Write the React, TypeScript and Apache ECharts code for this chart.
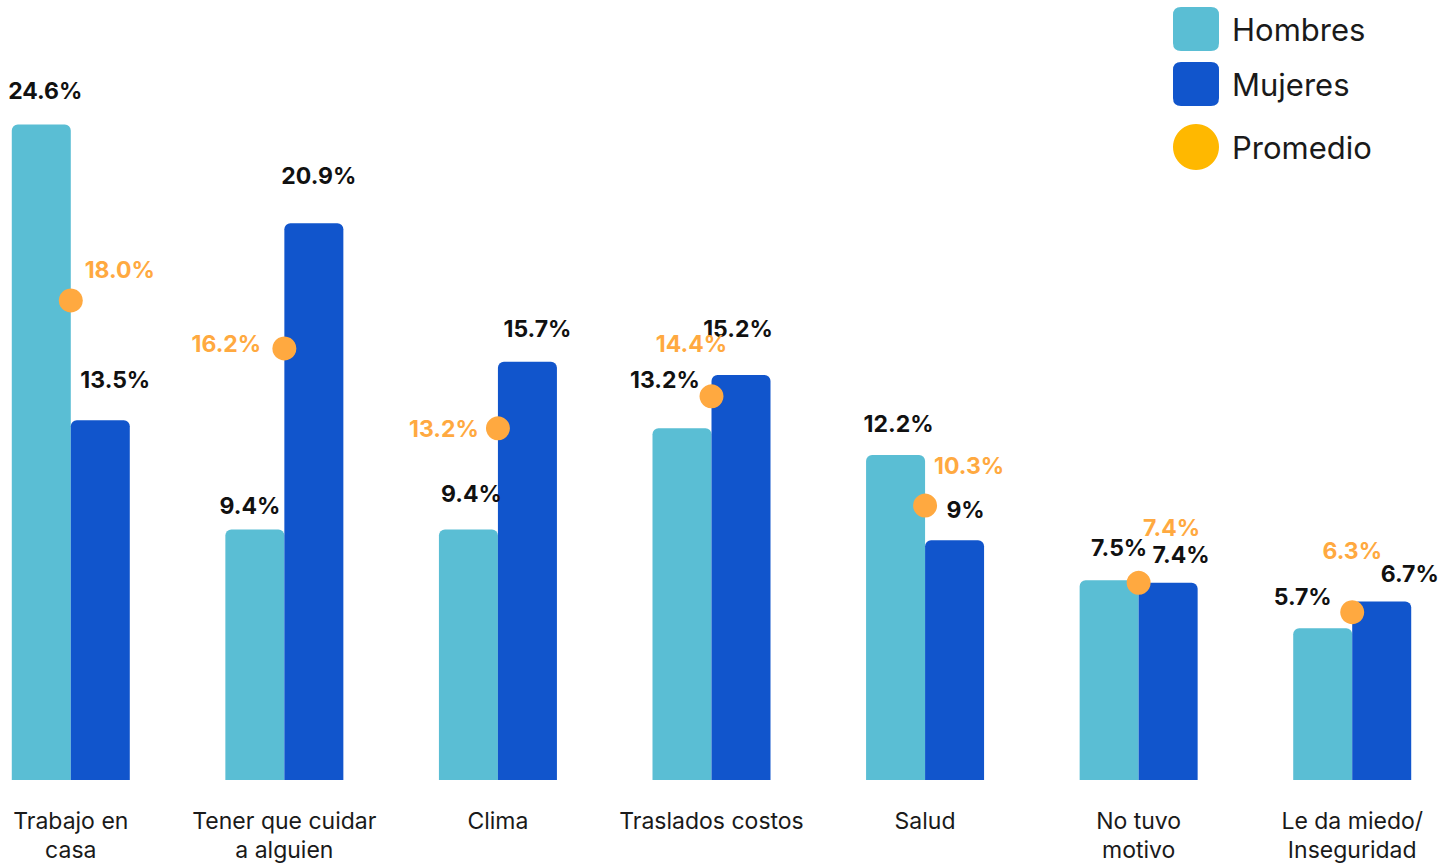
import React, { useEffect, useRef } from "react";
import * as echarts from "echarts";

const categories = [
  "Trabajo en\ncasa",
  "Tener que cuidar\na alguien",
  "Clima",
  "Traslados costos",
  "Salud",
  "No tuvo\nmotivo",
  "Le da miedo/\nInseguridad",
];
const hombres = [24.6, 9.4, 9.4, 13.2, 12.2, 7.5, 5.7];
const mujeres = [13.5, 20.9, 15.7, 15.2, 9, 7.4, 6.7];
const promedio = [18.0, 16.2, 13.2, 14.4, 10.3, 7.4, 6.3];

// label placement tweaks (pixels)
const hombresLabelOffsets = [[4, -22], [-5, -12], [3, -24], [-17, -37], [3, -19], [10, -21], [-20, -20]];
const mujeresLabelOffsets = [[15, -29], [5, -36], [10, -21], [-3, -35], [11, -19], [13, -16], [28, -16]];
const promedioLabelOffsets = [[49, -30], [-58, -4], [-54, 1], [-20, -52], [44, -40], [33, -55], [0, -61]];

const C_H = "#5abed4";
const C_M = "#1155cc";
const C_P = "#ffa940";
const FONT = "Inter";
const SHIFT = 36; // chart canvas starts left of the window

const roundIcon =
  "path://M8,0 H38 Q46,0 46,8 V36 Q46,44 38,44 H8 Q0,44 0,36 V8 Q0,0 8,0 Z";

export default function App() {
  const ref = useRef<HTMLDivElement>(null);
  useEffect(() => {
    if (!ref.current) return;
    const chart = echarts.init(ref.current, null, { renderer: "svg" });
    const barLabel = {
      show: true,
      position: "top" as const,
      distance: 0,
      color: "#111",
      fontFamily: FONT,
      fontWeight: 700,
      fontSize: 23,
      formatter: (p: any) => `${p.value}%`,
    };
    chart.setOption({
      animation: false,
      backgroundColor: "#ffffff",
      textStyle: { fontFamily: FONT },
      legend: [
        {
          data: ["Hombres", "Mujeres"],
          orient: "vertical",
          left: 1168 + SHIFT,
          top: 2,
          itemWidth: 46,
          itemHeight: 44,
          itemGap: 11,
          icon: roundIcon,
          textStyle: { fontSize: 31, color: "#1a1a1a", fontFamily: FONT, padding: [0, 0, 0, 8] },
        },
        {
          data: [{ name: "Promedio", itemStyle: { color: "#ffb800" } }],
          orient: "vertical",
          left: 1168 + SHIFT,
          top: 119,
          itemWidth: 46,
          itemHeight: 46,
          icon: "circle",
          textStyle: { fontSize: 31, color: "#1a1a1a", fontFamily: FONT, padding: [0, 0, 0, 8] },
        },
      ],
      grid: { left: 0, width: 1495, top: 34, height: 750 },
      xAxis: {
        type: "category",
        data: categories,
        axisLine: { show: false },
        axisTick: { show: false },
        axisLabel: {
          interval: 0,
          margin: 26,
          fontSize: 23,
          lineHeight: 29,
          color: "#1a1a1a",
          fontFamily: FONT,
        },
      },
      yAxis: { type: "value", min: 0, max: 28, show: false },
      series: [
        {
          name: "Hombres",
          type: "bar",
          barWidth: 59,
          barGap: "0%",
          itemStyle: { color: C_H, borderRadius: [6, 6, 0, 0] },
          data: hombres.map((v, i) => ({
            value: v,
            label: { offset: hombresLabelOffsets[i] },
          })),
          label: barLabel,
        },
        {
          name: "Mujeres",
          type: "bar",
          barWidth: 59,
          barGap: "0%",
          itemStyle: { color: C_M, borderRadius: [6, 6, 0, 0] },
          data: mujeres.map((v, i) => ({
            value: v,
            label: { offset: mujeresLabelOffsets[i] },
          })),
          label: barLabel,
        },
        {
          name: "Promedio",
          type: "scatter",
          symbol: "circle",
          symbolSize: 24,
          z: 5,
          itemStyle: { color: C_P, opacity: 1 },
          data: promedio.map((v, i) => ({
            value: v,
            label: { offset: promedioLabelOffsets[i] },
          })),
          label: {
            show: true,
            position: "inside",
            color: C_P,
            fontFamily: FONT,
            fontWeight: 700,
            fontSize: 23,
            formatter: (p: any) => `${Number(p.value).toFixed(1)}%`,
          },
        },
      ],
    });
    return () => chart.dispose();
  }, []);
  return (
    <div style={{ position: "fixed", left: 0, top: 0, width: 1441, height: 864, overflow: "hidden", background: "#fff" }}>
      <div
        ref={ref}
        style={{ position: "absolute", left: -SHIFT, top: 0, width: 1495, height: 864 }}
      />
    </div>
  );
}
